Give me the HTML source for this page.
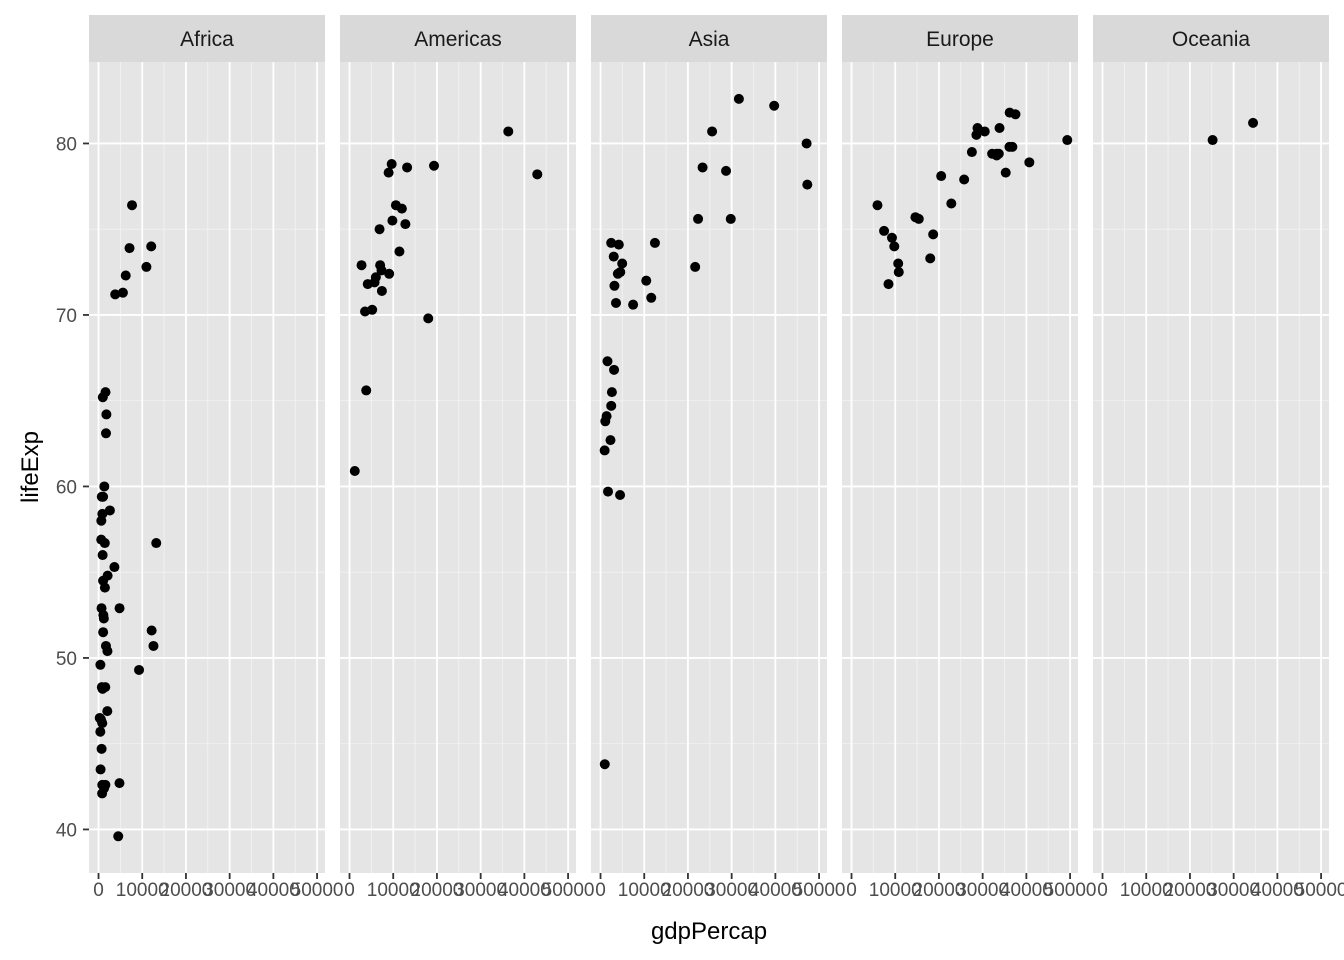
<!DOCTYPE html>
<html><head><meta charset="utf-8"><style>
body{margin:0;background:#fff;}
svg{display:block;font-family:"Liberation Sans",Arial,sans-serif;}
</style></head><body>
<svg id="chart" width="1344" height="960"></svg>
<script>
const facets=["Africa","Americas","Asia","Europe","Oceania"];
const xTicks=[0,10000,20000,30000,40000,50000];
const yTicks=[40,50,60,70,80];
const africaGdp=[6223,4797,1441,12570,1217,430,2042,706,1704,986,278,3633,1545,2082,5581,12154,641,691,13206,753,1328,943,579,1463,1569,415,12057,1045,759,1043,1803,10957,3820,824,4811,620,2014,7670,863,1598,1712,863,926,9270,2602,4513,1107,883,7093,1056,1271,470];
const africaLife=[72.3,42.7,56.7,50.7,52.3,49.6,50.4,44.7,50.7,65.2,46.5,55.3,48.3,54.8,71.3,51.6,58.0,52.9,56.7,59.4,60.0,56.0,46.4,54.1,42.6,45.7,74.0,59.4,48.3,54.5,64.2,72.8,71.2,42.1,52.9,56.9,46.9,76.4,46.2,65.5,63.1,42.6,48.2,49.3,58.6,39.6,52.5,58.4,73.9,51.5,42.4,43.5];
const americasGdp=[12779,3822,9066,36319,13172,7007,9645,8948,6025,6873,5728,5186,1202,3548,7321,11978,2749,9809,4173,7409,19329,18009,42952,10611,11416];
const americasLife=[75.3,65.6,72.4,80.7,78.6,72.9,78.8,78.3,72.2,75.0,71.9,70.3,60.9,70.2,72.6,76.2,72.9,75.5,71.8,71.4,78.7,69.8,78.2,76.4,73.7];
const asiaGdp=[975,29796,1391,1714,4959,39725,2452,3541,11606,4471,25523,31656,4519,1593,23348,47307,10461,12452,3096,944,1091,22316,2606,3190,21655,47143,3970,4185,28718,7458,2442,3025,2281];
const asiaLife=[43.8,75.6,64.1,59.7,73.0,82.2,64.7,70.7,71.0,59.5,80.7,82.6,72.5,67.3,78.6,77.6,72.0,74.2,66.8,62.1,63.8,75.6,65.5,71.7,72.8,80.0,72.4,74.1,78.4,70.6,74.2,73.4,62.7];
const europeGdp=[5937,36126,33693,7446,10681,14619,22833,35278,33207,30470,32170,27538,18009,36181,40676,28570,9254,36798,49357,15390,20510,10808,9787,18678,25768,28821,33860,37506,8458,33203];
const europeLife=[76.4,79.8,79.4,74.9,73.0,75.7,76.5,78.3,79.3,80.7,79.4,79.5,73.3,81.8,78.9,80.5,74.5,79.8,80.2,75.6,78.1,72.5,74.0,74.7,77.9,80.9,80.9,81.7,71.8,79.4];
const oceaniaGdp=[34435,25185];
const oceaniaLife=[81.2,80.2];
const seriesGdp=[africaGdp,americasGdp,asiaGdp,europeGdp,oceaniaGdp];
const seriesLife=[africaLife,americasLife,asiaLife,europeLife,oceaniaLife];

const NS="http://www.w3.org/2000/svg";
const svg=document.getElementById('chart');
const pTop=62,pBot=873,pW=236,pStep=251,p0=89;
const xMin=-2177,xMax=51811,yMin=37.46,yMax=84.75;
function xs(v,i){return p0+i*pStep+(v-xMin)/(xMax-xMin)*pW;}
function ys(v){return pBot-(v-yMin)/(yMax-yMin)*(pBot-pTop);}
function mk(tag,attrs,parent){const e=document.createElementNS(NS,tag);for(const k in attrs)e.setAttribute(k,attrs[k]);(parent||svg).appendChild(e);return e;}

facets.forEach((f,i)=>{
  const g=mk('g',{});
  
  
  const left=p0+i*pStep;
  const bg=mk('rect',{x:left,y:pTop,width:pW,height:pBot-pTop,fill:'#e5e5e5'},g);
  
  
  const strip=mk('rect',{x:left,y:15,width:pW,height:pTop-15,fill:'#d9d9d9'},g);
  
  
  const st=mk('text',{x:left+pW/2,y:46,'text-anchor':'middle','font-size':'21',fill:'#1a1a1a'},g);
  st.textContent=f;
  
  
  for(let k=0;k<xTicks.length-1;k++){const v=(xTicks[k]+xTicks[k+1])/2;const x=xs(v,i);mk('line',{x1:x,x2:x,y1:pTop,y2:pBot,stroke:'#f2f2f2','stroke-width':0.9},g);}
  for(let k=0;k<yTicks.length-1;k++){const y=ys((yTicks[k]+yTicks[k+1])/2);mk('line',{x1:left,x2:left+pW,y1:y,y2:y,stroke:'#f2f2f2','stroke-width':0.9},g);}
  yTicks.forEach(v=>{const y=ys(v);mk('line',{x1:left,x2:left+pW,y1:y,y2:y,stroke:'#fff','stroke-width':1.8},g);});
  xTicks.forEach(v=>{const x=xs(v,i);mk('line',{x1:x,x2:x,y1:pTop,y2:pBot,stroke:'#fff','stroke-width':1.8},g);
    mk('line',{x1:x,x2:x,y1:pBot,y2:pBot+6,stroke:'#333','stroke-width':1.8},g);
    const t=mk('text',{x:x,y:896,'text-anchor':'middle','font-size':'19',fill:'#4d4d4d'},g);
    t.textContent=String(v);
    
    
  });
  seriesGdp[i].forEach((gv,j)=>{
    const c=mk('circle',{cx:xs(gv,i),cy:ys(seriesLife[i][j]),r:5,fill:'#000'},g);
    
    
  });
});
yTicks.forEach(v=>{const y=ys(v);
  mk('line',{x1:83,x2:89,y1:y,y2:y,stroke:'#333','stroke-width':1.8});
  const t=mk('text',{x:77,y:y+7,'text-anchor':'end','font-size':'19',fill:'#4d4d4d'});
  t.textContent=String(v);
  
  
});
const xt=mk('text',{x:709,y:939,'text-anchor':'middle','font-size':'24',fill:'#000'});
xt.textContent='gdpPercap';


const yt=mk('text',{x:0,y:0,'text-anchor':'middle','font-size':'24',fill:'#000',transform:'translate(38,467) rotate(-90)'});
yt.textContent='lifeExp';


</script>
</body></html>
